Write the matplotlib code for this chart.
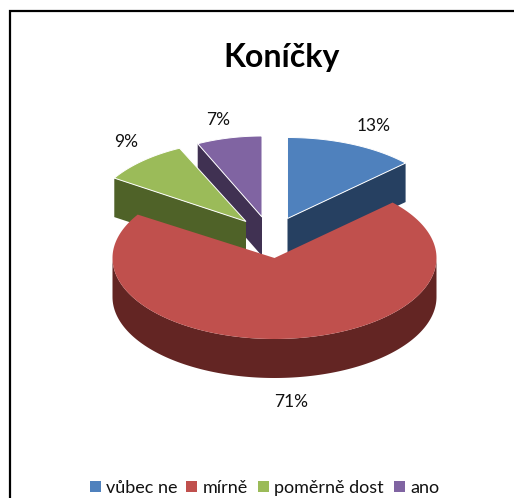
import matplotlib
matplotlib.use("Agg")
import matplotlib.pyplot as plt
import numpy as np
from matplotlib.patches import Polygon, Rectangle

plt.rcParams["font.family"] = ["Lato", "DejaVu Sans"]

categories = ["vůbec ne", "mírně", "poměrně dost", "ano"]
shares = [13, 71, 9, 7]
share_labels = ["13%", "71%", "9%", "7%"]

top_colors = ["#4F81BD", "#C0504D", "#9BBB59", "#8064A2"]
side_colors = ["#264061", "#632523", "#4F6228", "#403152"]

# apex of every exploded slice, in pixels
apex = [(287.5, 218.5), (274.5, 258), (246, 221.5), (262, 217)]
# far slices look a little narrower
x_radius = [162, 162, 156, 151]
RY = 81
DEPTH = 39
N = 200


def rim(i, a0, a1, n=N):
    # angles run clockwise from twelve o'clock, in degrees
    cx, cy = apex[i]
    t = np.radians(np.linspace(a0, a1, n))
    return np.column_stack([cx + x_radius[i] * np.sin(t), cy - RY * np.cos(t)])


fig = plt.figure(figsize=(5.14, 4.98), dpi=100)
ax = fig.add_axes([0, 0, 1, 1])
ax.set_xlim(0, 514)
ax.set_ylim(498, 0)
ax.axis("off")

# chart frame: only the left and top edges fall inside the image
ax.plot([10, 10, 514], [498, 11, 11], color="black", lw=1.6, solid_joinstyle="miter")

ends = np.cumsum(shares) / np.sum(shares) * 360
starts = np.concatenate([[0], ends[:-1]])
down = np.array([0, DEPTH])

# back slices first, the red slice lies over all of them
for i in [3, 2, 0]:
    edge_angle = ends[i] if i == 0 else starts[i]
    tip = np.array(apex[i])
    end = rim(i, edge_angle, edge_angle, 1)[0]
    ax.add_patch(Polygon([tip, end, end + down, tip + down], fc=side_colors[i], ec="none"))
    pts = np.vstack([[tip], rim(i, starts[i], ends[i])])
    ax.add_patch(Polygon(pts, fc=top_colors[i], ec="white", lw=0.7))

arc = rim(1, 90, 270)
wall = np.vstack([arc, (arc + down)[::-1]])
ax.add_patch(Polygon(wall, fc=side_colors[1], ec="none"))
pts = np.vstack([[apex[1]], rim(1, starts[1], ends[1])])
ax.add_patch(Polygon(pts, fc=top_colors[1], ec="none"))

ax.text(282, 57, "Koníčky", ha="center", va="center", fontsize=23, fontweight="bold")

label_xy = [(374, 126), (291, 402), (126, 142), (218, 120)]
for (x, y), s in zip(label_xy, share_labels):
    ax.text(x, y, s, ha="center", va="center", fontsize=12.5, color="#111111")

# legend row
swatch_x = [90, 186, 258, 394]
text_x = [106, 203, 274, 410]
for i, name in enumerate(categories):
    ax.add_patch(Rectangle((swatch_x[i], 481), 11, 11, fc=top_colors[i], ec="none"))
    ax.text(text_x[i], 488, name, ha="left", va="center", fontsize=13, color="#111111")

fig.savefig("out.png", dpi=100)
